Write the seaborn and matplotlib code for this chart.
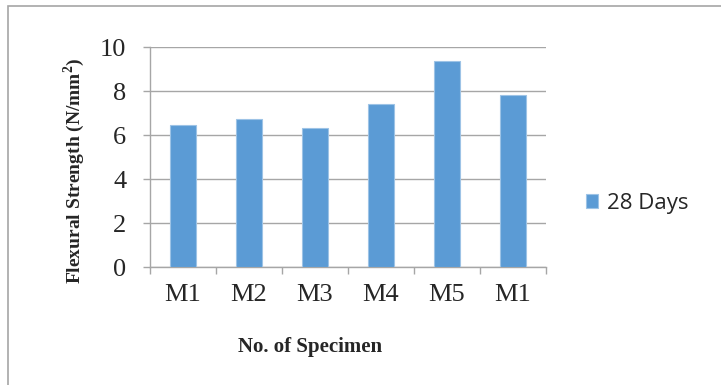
import numpy as np
import matplotlib
matplotlib.use('Agg')
import matplotlib.pyplot as plt
import seaborn as sns
import pandas as pd
from matplotlib.patches import Rectangle

specimens = ['M1', 'M2', 'M3', 'M4', 'M5', 'M1']
strength_28d = [6.45, 6.74, 6.35, 7.43, 9.36, 7.81]
series_name = '28 Days'

df = pd.DataFrame({'pos': list(range(len(specimens))),
                   'strength': strength_28d,
                   'series': series_name})

sns.set_style('white')
plt.rcParams['font.family'] = ['Liberation Serif', 'DejaVu Serif']

fig = plt.figure(figsize=(7.21, 3.85), dpi=100)
ax = fig.add_axes([0.208, 0.306, 0.549, 0.571])

sns.barplot(data=df, x='pos', y='strength', hue='series', palette=['#5B9BD5'],
            saturation=1, width=0.4, edgecolor='#9DC3E6', linewidth=0.8, ax=ax, zorder=3)

grid_c = '#A6A6A6'
ax.set_ylim(0, 10)
ax.set_xlim(-0.5, len(specimens) - 0.5)
ax.set_yticks(np.arange(0, 11, 2))
ax.yaxis.grid(True, color=grid_c, lw=1)
ax.set_axisbelow(True)
for s in ['top', 'right']:
    ax.spines[s].set_visible(False)
for s in ['left', 'bottom']:
    ax.spines[s].set_color(grid_c)
    ax.spines[s].set_linewidth(1)

ax.set_xticks(range(len(specimens)))
ax.set_xticklabels(specimens)
ax.set_xticks(np.arange(-0.5, len(specimens), 1), minor=True)
ax.tick_params(axis='both', which='both', bottom=True, left=True)
ax.tick_params(axis='x', which='major', length=0, pad=12, labelsize=19)
ax.tick_params(axis='x', which='minor', length=5, color=grid_c, width=1)
ax.tick_params(axis='y', length=5, color=grid_c, width=1, labelsize=19, pad=12)

ax.set_xlabel('No. of Specimen', fontweight='bold', fontsize=15)
ax.xaxis.set_label_coords(0.404, -0.318)
ax.set_ylabel('Flexural Strength (N/mm$^\\mathregular{2}$)', fontweight='bold', fontsize=14)
ax.yaxis.set_label_coords(-0.16, 0.44)

leg = ax.legend(loc='center left', bbox_to_anchor=(1.05, 0.29), frameon=False,
                prop={'family': 'Open Sans', 'size': 16}, handlelength=0.55, handleheight=0.55,
                handletextpad=0.4)

fig.patches.append(Rectangle((8 / 721, -0.1), 1.2, 1 - 6 / 385 + 0.1, transform=fig.transFigure,
                             fill=False, edgecolor='#A6A6A6', lw=1.2))

fig.savefig('out.png', dpi=100)
